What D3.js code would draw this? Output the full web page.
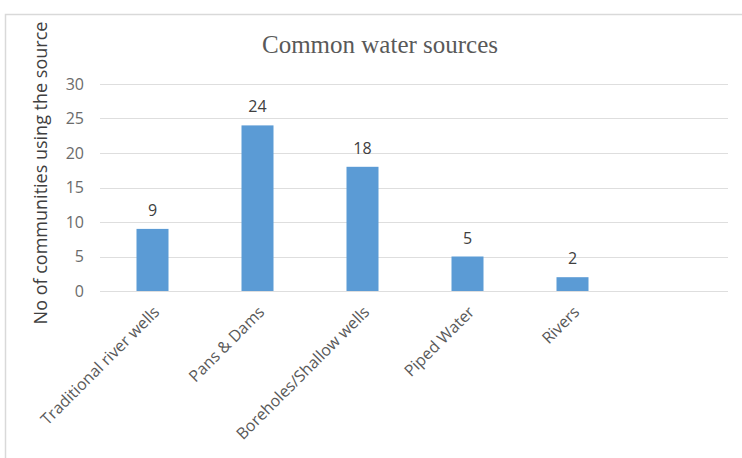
<!DOCTYPE html>
<html>
<head>
<meta charset="utf-8">
<script src="https://cdn.jsdelivr.net/npm/d3@7"></script>
<style>
  html, body { margin: 0; padding: 0; background: #fff; }
  svg { display: block; }
</style>
</head>
<body>
<svg id="chart" width="742" height="458"></svg>
<script>
// Water source usage counts
const categories = ["Traditional river wells", "Pans & Dams", "Boreholes/Shallow wells", "Piped Water", "Rivers"];
const communities = [9, 24, 18, 5, 2];
const yTicks = [0, 5, 10, 15, 20, 25, 30];
const titleText = "Common water sources";
const yAxisTitle = "No of communities using the source";

const svg = d3.select("#chart");
const W = 742, H = 458;

const plot = { left: 100, right: 728, top: 84, bottom: 291 };
const step = 105;
const sans = "'Open Sans', sans-serif";

// chart area frame
svg.append("rect")
  .attr("x", 5.5).attr("y", 14.5)
  .attr("width", W + 10).attr("height", H + 10)
  .attr("fill", "#fff")
  .attr("stroke", "#d9d9d9").attr("stroke-width", 1.5);

const x = d3.scaleBand()
  .domain(categories)
  .range([plot.left, plot.left + step * categories.length])
  .padding(0);

const y = d3.scaleLinear()
  .domain([0, 30])
  .range([plot.bottom, plot.top]);

const barW = 32;

// horizontal gridlines
svg.append("g").selectAll("line")
  .data(yTicks)
  .join("line")
  .attr("x1", plot.left).attr("x2", plot.right)
  .attr("y1", d => Math.round(y(d)) + 0.5)
  .attr("y2", d => Math.round(y(d)) + 0.5)
  .attr("stroke", "#dedede").attr("stroke-width", 1);

// y axis tick labels
const yAxis = d3.axisLeft(y).tickValues(yTicks).tickSize(0).tickPadding(0);
const gy = svg.append("g")
  .attr("transform", `translate(${plot.left - 16},0)`)
  .call(yAxis);
gy.select(".domain").remove();
gy.selectAll("text")
  .attr("fill", "#6b6b6b")
  .attr("font-family", sans)
  .attr("font-size", 16);

// bars
svg.append("g").selectAll("rect")
  .data(communities)
  .join("rect")
  .attr("x", (d, i) => x(categories[i]) + x.bandwidth() / 2 - barW / 2)
  .attr("y", d => y(d))
  .attr("width", barW)
  .attr("height", d => y(0) - y(d))
  .attr("fill", "#5b9bd5");

// value labels
svg.append("g").selectAll("text")
  .data(communities)
  .join("text")
  .attr("x", (d, i) => x(categories[i]) + x.bandwidth() / 2)
  .attr("y", d => y(d) - 13)
  .attr("text-anchor", "middle")
  .attr("fill", "#404040")
  .attr("font-family", sans)
  .attr("font-size", 16)
  .text(d => d);

// category labels, rotated
const xAxis = d3.axisBottom(x).tickSize(0).tickPadding(0);
const gx = svg.append("g")
  .attr("transform", `translate(0,${plot.bottom})`)
  .call(xAxis);
gx.select(".domain").remove();
gx.selectAll("text")
  .attr("fill", "#595959")
  .attr("font-family", sans)
  .attr("font-size", 16)
  .attr("text-anchor", "end")
  .attr("dy", 0)
  .attr("y", 0)
  .attr("transform", "translate(8,22) rotate(-45)");

// title
svg.append("text")
  .attr("x", 380).attr("y", 53)
  .attr("text-anchor", "middle")
  .attr("fill", "#595959")
  .attr("font-family", "'Liberation Serif', 'Times New Roman', serif")
  .attr("font-size", 25)
  .text(titleText);

// y axis title
svg.append("text")
  .attr("transform", `translate(47,173) rotate(-90)`)
  .attr("text-anchor", "middle")
  .attr("fill", "#404040")
  .attr("font-family", sans)
  .attr("font-size", 18)
  .text(yAxisTitle);
</script>
</body>
</html>
